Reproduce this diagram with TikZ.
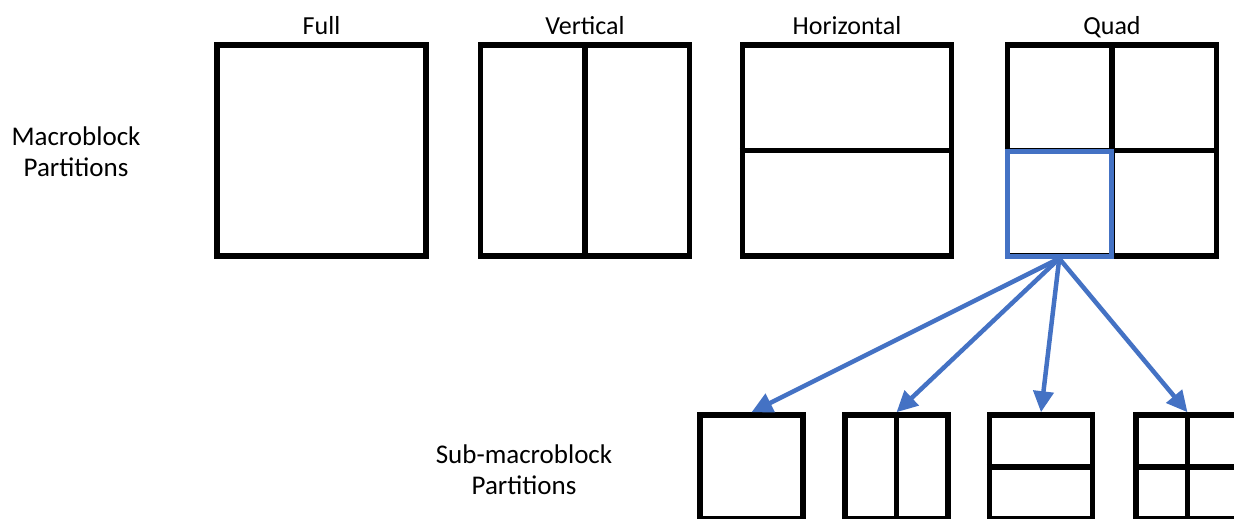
\documentclass[tikz,border=0pt]{standalone}
\usepackage{fontspec}
\setmainfont{Carlito}
\usetikzlibrary{arrows.meta}
\definecolor{pblue}{HTML}{4472C4}
\begin{document}
\begin{tikzpicture}[x=1pt,y=-1pt,
  bigbox/.style={draw=black,line width=5.5pt,minimum width=209pt,minimum height=211pt,inner sep=0pt},
  smallbox/.style={draw=black,line width=5.5pt,minimum width=103pt,minimum height=104pt,inner sep=0pt},
  subbox/.style={draw=pblue,line width=5pt,minimum width=104.5pt,minimum height=104.5pt,inner sep=0pt},
  divider/.style={draw=black,line width=5.5pt},
  title/.style={font=\fontsize{26}{31}\selectfont,anchor=base},
  sidelabel/.style={font=\fontsize{27}{31}\selectfont,align=center,anchor=base},
  conn/.style={draw=pblue,line width=4.5pt,-{Triangle[length=21pt,width=20pt]}}]
\useasboundingbox (0,0) rectangle (1234,519);
\clip (0,0) rectangle (1234,519);
% big boxes
\node[bigbox] (full) at (321.5,150.5) {};
\node[bigbox] (vert) at (585,150.5) {};
\node[bigbox] (horiz) at (847,150.5) {};
\node[bigbox] (quad) at (1112,150.5) {};
\draw[divider] (vert.north) -- (vert.south);
\draw[divider] (horiz.west) -- (horiz.east);
\draw[divider] (quad.north) -- (quad.south);
\draw[divider] (quad.west) -- (quad.east);
\node[subbox] (qsub) at (1059.25,203.75) {};
% titles
\node[title] (tfull) at (321.5,35) {Full};
\node[title] (tvert) at (585,35) {Vertical};
\node[title] (thoriz) at (847,35) {Horizontal};
\node[title] (tquad) at (1112,35) {Quad};
\node[sidelabel] (lmacro) at (76,176) {Macroblock\\Partitions};
\node[sidelabel] (lsub) at (524,494) {Sub-macroblock\\Partitions};
% small boxes
\node[smallbox] (s1) at (751.5,467) {};
\node[smallbox] (s2) at (896.5,467) {};
\node[smallbox] (s3) at (1041,467) {};
\node[smallbox] (s4) at (1187.5,467) {};
\draw[divider] (s2.north) -- (s2.south);
\draw[divider] (s3.west) -- (s3.east);
\draw[divider] (s4.north) -- (s4.south);
\draw[divider] (s4.west) -- (s4.east);
% arrows
\draw[conn] (qsub.south) -- (s1.north);
\draw[conn] (qsub.south) -- (s2.north);
\draw[conn] (qsub.south) -- (s3.north);
\draw[conn] (qsub.south) -- (s4.north);
\end{tikzpicture}
\end{document}
